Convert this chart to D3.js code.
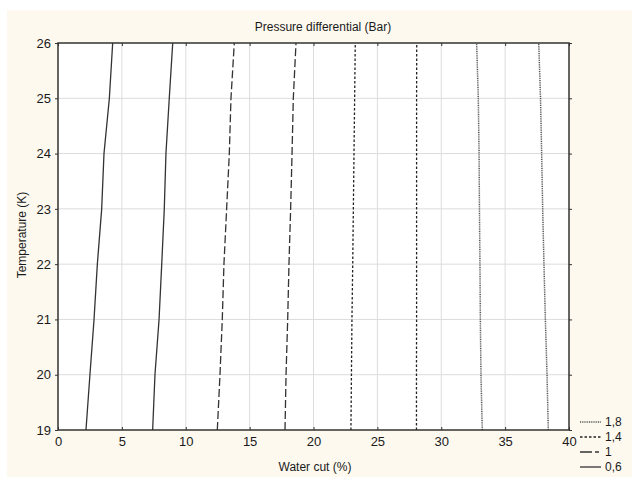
<!DOCTYPE html>
<html>
<head>
<meta charset="utf-8">
<script src="https://cdn.jsdelivr.net/npm/d3@7"></script>
<style>
  body { margin: 0; background: #fff; }
  text { font-family: "Liberation Sans", Arial, sans-serif; fill: #1a1a1a; }
</style>
</head>
<body>
<svg width="632" height="477"></svg>
<script>
// **** data ****
var temps = [19, 20, 21, 22, 23, 24, 25, 26];
var xTicks = [0, 5, 10, 15, 20, 25, 30, 35, 40];
var yTicks = [19, 20, 21, 22, 23, 24, 25, 26];
var legendLevels = ["1,8", "1,4", "1", "0,6"];

// water cut (%) of each contour line at each temperature above
var line06a = [2.19, 2.50, 2.82, 3.08, 3.42, 3.60, 4.02, 4.28];
var line06b = [7.41, 7.59, 7.91, 8.12, 8.32, 8.45, 8.71, 8.98];
var line10a = [12.47, 12.68, 12.86, 12.99, 13.20, 13.41, 13.54, 13.80];
var line10b = [17.77, 17.85, 17.98, 18.08, 18.21, 18.32, 18.42, 18.63];
var line14a = [22.93, 22.97, 23.01, 23.07, 23.12, 23.17, 23.22, 23.27];
var line14b = [28.06, 28.06, 28.07, 28.07, 28.07, 28.07, 28.07, 28.08];
var line18a = [33.21, 33.11, 33.06, 33.03, 32.99, 32.96, 32.90, 32.77];
var line18b = [38.38, 38.28, 38.15, 38.04, 37.94, 37.86, 37.77, 37.63];

var contours = [
    {level: "0,6", xs: line06a}, {level: "0,6", xs: line06b},
    {level: "1", xs: line10a},   {level: "1", xs: line10b},
    {level: "1,4", xs: line14a}, {level: "1,4", xs: line14b},
    {level: "1,8", xs: line18a}, {level: "1,8", xs: line18b}
];

// **** styles per level ****
var lineStyle = {
    "0,6": {dash: null, color: "#333", width: 1.3},
    "1":   {dash: "8,3", color: "#333", width: 1.3},
    "1,4": {dash: "2.5,2", color: "#222", width: 1.3},
    "1,8": {dash: "1,0.8", color: "#555", width: 1.5}
};

var svg = d3.select("svg");

// cream panel
svg.append("rect")
    .attr("x", 7).attr("y", 10)
    .attr("width", 625).attr("height", 467)
    .attr("fill", "#fdf9ef");

var xScale = d3.scaleLinear().domain([0, 40]).range([58, 569]);
var yScale = d3.scaleLinear().domain([19, 26]).range([430, 43]);

svg.append("rect")
    .attr("x", 58).attr("y", 43)
    .attr("width", 511).attr("height", 387)
    .attr("fill", "#fff");

// grid
svg.append("g").selectAll("line").data(xTicks.slice(1, -1)).enter().append("line")
    .attr("x1", d => xScale(d)).attr("x2", d => xScale(d))
    .attr("y1", 43).attr("y2", 430)
    .attr("stroke", "#dcdcdc").attr("stroke-width", 1);
svg.append("g").selectAll("line").data(yTicks.slice(1, -1)).enter().append("line")
    .attr("y1", d => yScale(d)).attr("y2", d => yScale(d))
    .attr("x1", 58).attr("x2", 569)
    .attr("stroke", "#dcdcdc").attr("stroke-width", 1);

// contour lines
var lineGen = d3.line()
    .x(d => xScale(d[0]))
    .y(d => yScale(d[1]));

svg.append("g").selectAll("path").data(contours).enter().append("path")
    .attr("d", c => lineGen(c.xs.map((x, i) => [x, temps[i]])))
    .attr("fill", "none")
    .attr("stroke", c => lineStyle[c.level].color)
    .attr("stroke-width", c => lineStyle[c.level].width)
    .attr("stroke-dasharray", c => lineStyle[c.level].dash);

// axes
var tickFont = g => g.selectAll("text")
    .style("font-family", "'Liberation Sans', Arial, sans-serif")
    .style("font-size", "13px").attr("fill", "#1a1a1a");

svg.append("g").attr("transform", "translate(0,430)")
    .call(d3.axisBottom(xScale).tickValues(xTicks).tickSize(-3).tickPadding(7).tickFormat(d3.format("d")))
    .call(g => g.select(".domain").remove())
    .call(g => g.selectAll("line").attr("stroke", "#333"))
    .call(tickFont);

svg.append("g").attr("transform", "translate(58,0)")
    .call(d3.axisLeft(yScale).tickValues(yTicks).tickSize(3).tickPadding(4).tickFormat(d3.format("d")))
    .call(g => g.select(".domain").remove())
    .call(g => g.selectAll("line").attr("stroke", "#333"))
    .call(tickFont);

svg.append("g").attr("transform", "translate(0,43)")
    .call(d3.axisTop(xScale).tickValues(xTicks).tickSize(-3).tickFormat(""))
    .call(g => g.select(".domain").remove())
    .call(g => g.selectAll("line").attr("stroke", "#333"));

svg.append("g").attr("transform", "translate(569,0)")
    .call(d3.axisRight(yScale).tickValues(yTicks).tickSize(3).tickFormat(""))
    .call(g => g.select(".domain").remove())
    .call(g => g.selectAll("line").attr("stroke", "#333"));

// frame
svg.append("rect")
    .attr("x", 58).attr("y", 43)
    .attr("width", 511).attr("height", 387)
    .attr("fill", "none").attr("stroke", "#333").attr("stroke-width", 1.5);

// labels
svg.append("text")
    .attr("x", 323).attr("y", 31)
    .attr("text-anchor", "middle").style("font-size", "12px")
    .text("Pressure differential (Bar)");

svg.append("text")
    .attr("x", 315).attr("y", 471)
    .attr("text-anchor", "middle").style("font-size", "12px")
    .text("Water cut (%)");

svg.append("text")
    .attr("transform", "translate(26,235) rotate(-90)")
    .attr("text-anchor", "middle").style("font-size", "12px")
    .text("Temperature (K)");

// legend
var legend = svg.append("g").selectAll("g").data(legendLevels).enter().append("g")
    .attr("transform", (d, i) => "translate(580," + (422 + i * 15) + ")");

legend.append("line")
    .attr("x1", 0).attr("x2", 21)
    .attr("stroke", d => lineStyle[d].color)
    .attr("stroke-width", d => lineStyle[d].width)
    .attr("stroke-dasharray", d => d === "1" ? "12,3,4,3" : lineStyle[d].dash);

legend.append("text")
    .attr("x", 25).attr("y", 4)
    .style("font-size", "12px")
    .text(d => d);
</script>
</body>
</html>
